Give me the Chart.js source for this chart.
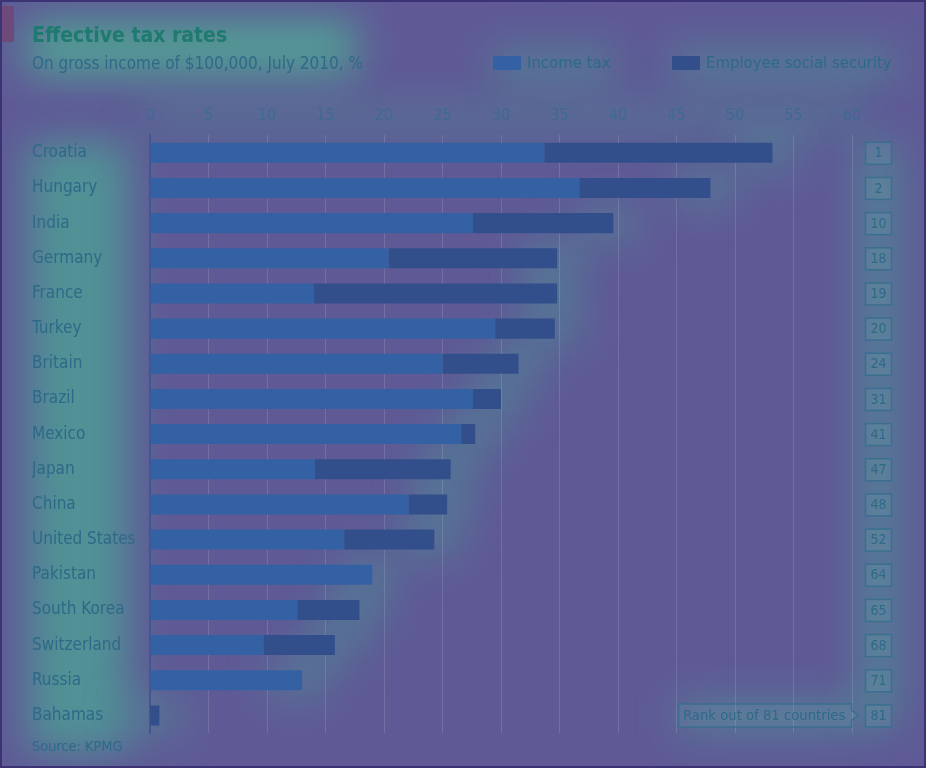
<!DOCTYPE html>
<html>
<head>
<meta charset="utf-8">
<script src="https://cdn.jsdelivr.net/npm/chart.js@4.4.1/dist/chart.umd.min.js"></script>
<style>
  html, body { margin: 0; padding: 0; background: #5f5a96; }
  #wrap { position: relative; width: 926px; height: 768px; box-sizing: border-box; border: 2px solid #3b3373; }
  canvas { display: block; }
</style>
</head>
<body>
<div id="wrap"><canvas id="c" width="922" height="764"></canvas></div>
<script>
const countries = ["Croatia","Hungary","India","Germany","France","Turkey","Britain","Brazil","Mexico","Japan","China","United States","Pakistan","South Korea","Switzerland","Russia","Bahamas"];
const incomeTax = [33.7, 36.7, 27.6, 20.4, 14.0, 29.5, 25.0, 27.6, 26.6, 14.1, 22.1, 16.6, 19.0, 12.6, 9.7, 13.0, 0];
const socialSecurity = [19.5, 11.2, 12.0, 14.4, 20.8, 5.1, 6.5, 2.4, 1.2, 11.6, 3.3, 7.7, 0, 5.3, 6.1, 0, 0.8];
const ranks = ["1","2","10","18","19","20","24","31","41","47","48","52","64","65","68","71","81"];
const xTicks = [0,5,10,15,20,25,30,35,40,45,50,55,60];

const FONT = "'DejaVu Sans Condensed', 'Liberation Sans Narrow', sans-serif";
const TEXT = '#2e6a88';
const INCOME = '#3461a3';
const SOCIAL = '#334f8b';

const glow = {
  id: 'glow',
  beforeDraw(chart) {
    const ctx = chart.ctx;
    const y = chart.scales.y;
    const x = chart.scales.x;
    ctx.save();
    ctx.filter = 'blur(20px)';
    ctx.fillStyle = 'rgba(78,180,148,0.75)';
    ctx.fillRect(24, 18, 330, 56);
    ctx.fillStyle = 'rgba(72,165,150,0.6)';
    ctx.fillRect(490, 50, 122, 26);
    ctx.fillRect(670, 50, 222, 26);
    ctx.fillStyle = 'rgba(72,165,150,0.4)';
    ctx.fillRect(140, 104, 720, 24);
    ctx.fillStyle = 'rgba(74,170,150,0.7)';
    ctx.fillRect(26, 140, 100, 610);
    ctx.fillStyle = 'rgba(72,165,150,0.6)';
    ctx.fillRect(860, 140, 34, 585);
    ctx.fillRect(676, 702, 186, 26);
    ctx.fillStyle = 'rgba(72,165,150,0.45)';
    countries.forEach((c, i) => {
      const end = x.getPixelForValue(incomeTax[i] + socialSecurity[i]);
      const cy = y.getPixelForValue(i);
      ctx.fillRect(end - 35, cy - 16, 60, 32);
    });
    ctx.filter = 'none';
    ctx.restore();
  }
};

const extras = {
  id: 'extras',
  afterDraw(chart) {
    const ctx = chart.ctx;
    const y = chart.scales.y;
    ctx.save();
    ctx.fillStyle = '#6e4a7a';
    ctx.fillRect(0, 4, 12, 36);
    ctx.fillStyle = '#1f7a70';
    ctx.font = "bold 21px " + FONT;
    ctx.textBaseline = 'alphabetic';
    ctx.textAlign = 'left';
    ctx.fillText('Effective tax rates', 30, 40);
    ctx.fillStyle = TEXT;
    ctx.font = "17px " + FONT;
    ctx.fillText('On gross income of $100,000, July 2010, %', 30, 67);
    const ds = chart.data.datasets;
    const legendX = [491, 670];
    ds.forEach((d, i) => {
      ctx.fillStyle = d.backgroundColor;
      ctx.fillRect(legendX[i], 54, 28, 14);
      ctx.fillStyle = TEXT;
      ctx.font = "16.6px " + FONT;
      ctx.textBaseline = 'middle';
      ctx.fillText(d.label, legendX[i] + 34, 62);
    });
    ctx.font = "14px " + FONT;
    ctx.textAlign = 'center';
    ctx.textBaseline = 'middle';
    ctx.lineWidth = 1.5;
    ctx.strokeStyle = '#3a6f8f';
    ranks.forEach((r, i) => {
      const cy = y.getPixelForValue(i);
      ctx.fillStyle = 'rgba(120,190,180,0.15)';
      ctx.fillRect(863.5, cy - 10.5, 26, 22);
      ctx.strokeRect(863.5, cy - 10.5, 26, 22);
      ctx.fillStyle = TEXT;
      ctx.fillText(r, 876.5, cy + 1);
    });
    const cy = y.getPixelForValue(countries.length - 1);
    ctx.beginPath();
    ctx.moveTo(676.5, cy - 11.5);
    ctx.lineTo(849.5, cy - 11.5);
    ctx.lineTo(849.5, cy - 5);
    ctx.lineTo(856.5, cy);
    ctx.lineTo(849.5, cy + 5);
    ctx.lineTo(849.5, cy + 11.5);
    ctx.lineTo(676.5, cy + 11.5);
    ctx.closePath();
    ctx.fillStyle = 'rgba(120,190,180,0.12)';
    ctx.fill();
    ctx.stroke();
    ctx.fillStyle = TEXT;
    ctx.textAlign = 'left';
    ctx.font = "14.7px " + FONT;
    ctx.fillText('Rank out of 81 countries', 681, cy + 1);
    ctx.font = "14.4px " + FONT;
    ctx.fillText('Source: KPMG', 30, 745);
    ctx.restore();
  }
};

new Chart(document.getElementById('c'), {
  type: 'bar',
  data: {
    labels: countries,
    datasets: [
      { label: 'Income tax', data: incomeTax, backgroundColor: INCOME, borderWidth: 0 },
      { label: 'Employee social security', data: socialSecurity, backgroundColor: SOCIAL, borderWidth: 0 }
    ]
  },
  options: {
    indexAxis: 'y',
    responsive: false,
    animation: false,
    maintainAspectRatio: false,
    layout: { padding: { left: 30, right: 72, top: 94, bottom: 33 } },
    plugins: {
      legend: { display: false },
      tooltip: { enabled: false },
      title: { display: false }
    },
    datasets: { bar: { barPercentage: 0.57, categoryPercentage: 1 } },
    scales: {
      x: {
        position: 'top',
        stacked: true,
        min: 0, max: 60,
        afterBuildTicks(scale) { scale.ticks = xTicks.map(v => ({ value: v })); },
        grid: { color: 'rgba(255,255,255,0.13)', lineWidth: 1, drawTicks: false },
        border: { display: false },
        ticks: { color: '#3f6a94', font: { family: FONT, size: 16 }, padding: 10 }
      },
      y: {
        stacked: true,
        afterFit(scale) { scale.width = 118; },
        grid: { display: false },
        border: { color: '#45558f', width: 2 },
        ticks: { crossAlign: 'far', color: TEXT, font: { family: FONT, size: 17 }, padding: 0 }
      }
    }
  },
  plugins: [glow, extras]
});
</script>
</body>
</html>
